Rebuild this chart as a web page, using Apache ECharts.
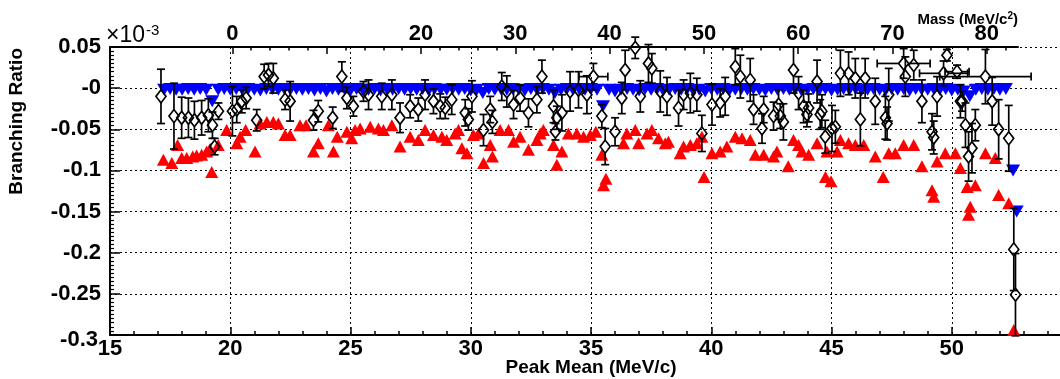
<!DOCTYPE html>
<html>
<head>
<meta charset="utf-8">
<script src="https://cdn.jsdelivr.net/npm/echarts@6/dist/echarts.min.js"></script>
<style>
  html, body { margin: 0; padding: 0; background: #fff; }
  #chart { width: 1060px; height: 379px; }
</style>
</head>
<body>
<div id="chart"></div>
<script>
// Branching ratio (x10^-3) versus peak mean (MeV/c)

// Bottom axis ticks
const meanTicks = [15, 20, 25, 30, 35, 40, 45, 50, 55];
const ratioTicks = [-0.3, -0.25, -0.2, -0.15, -0.1, -0.05, 0, 0.05];

// Top axis: mass scale (MeV/c^2) tied to the peak mean scale
const massLabels = [0, 20, 30, 40, 50, 60, 70, 80];
const massMajorTicks = [0, 10, 20, 30, 40, 50, 60, 70, 80];
const massMinorTicks = [0, 2, 4, 6, 8, 10, 12, 14, 16, 18, 20, 22, 24, 26, 28, 30, 32, 34, 36, 38, 40,
  42, 44, 46, 48, 50, 52, 54, 56, 58, 60, 62, 64, 66, 68, 70, 72, 74, 76, 78, 80, 82];
const massAtZeroMean = 20.09;   // peak mean (MeV/c) where mass = 0
const meanPerMass = 0.3923;     // MeV/c of peak mean per MeV/c^2 of mass
const massAxisEndMean = 52.77;  // peak mean where the mass axis stops

// Fitted values with errors: [peak mean, ratio, ratio error, peak mean error]
const fitted = [
  [17.12, -0.010, 0.033, 0], [17.66, -0.034, 0.040, 0], [17.98, -0.036, 0.025, 0], [18.26, -0.036, 0.024, 0],
  [18.51, -0.039, 0.023, 0], [18.81, -0.036, 0.021, 0], [19.09, -0.033, 0.020, 0], [19.26, -0.045, 0.016, 0],
  [19.35, -0.071, 0.010, 0], [19.51, -0.028, 0.010, 0], [20.09, -0.028, 0.030, 0], [20.27, -0.026, 0.016, 0],
  [20.48, -0.016, 0.014, 0], [20.66, -0.012, 0.013, 0], [21.10, -0.039, 0.013, 0], [21.41, 0.014, 0.015, 0],
  [21.59, 0.016, 0.014, 0], [21.79, 0.012, 0.018, 0], [22.28, -0.014, 0.012, 0], [22.49, -0.016, 0.024, 0],
  [23.46, -0.039, 0.012, 0], [23.66, -0.028, 0.013, 0], [24.26, -0.036, 0.013, 0], [24.64, 0.014, 0.018, 0],
  [24.85, -0.012, 0.013, 0], [25.12, -0.022, 0.012, 0], [25.54, -0.004, 0.012, 0], [25.75, -0.008, 0.018, 0],
  [26.30, -0.010, 0.016, 0], [26.72, -0.008, 0.018, 0], [27.06, -0.036, 0.018, 0], [27.48, -0.022, 0.014, 0],
  [27.82, -0.026, 0.014, 0], [28.10, -0.008, 0.018, 0], [28.45, -0.016, 0.015, 0], [28.73, -0.022, 0.015, 0],
  [28.94, -0.024, 0.013, 0], [29.21, -0.014, 0.018, 0], [29.77, -0.030, 0.016, 0], [29.90, -0.038, 0.013, 0],
  [30.05, -0.010, 0.019, 0], [30.53, -0.051, 0.019, 0], [30.81, -0.026, 0.016, 0], [30.90, -0.041, 0.014, 0],
  [31.29, 0.002, 0.017, 0], [31.50, -0.004, 0.019, 0], [31.78, -0.020, 0.017, 0], [32.05, -0.012, 0.016, 0],
  [32.40, -0.030, 0.017, 0], [32.75, -0.014, 0.016, 0], [32.96, 0.014, 0.020, 0], [33.44, -0.022, 0.020, 0],
  [33.52, -0.053, 0.010, 0], [33.58, -0.036, 0.014, 0], [33.79, -0.030, 0.022, 0], [34.13, -0.004, 0.024, 0],
  [34.48, -0.002, 0.022, 0], [34.83, -0.008, 0.023, 0], [35.10, 0.014, 0.016, 0.6], [35.45, -0.034, 0.014, 0],
  [35.59, -0.071, 0.022, 0], [36.00, -0.053, 0.017, 0], [36.28, -0.012, 0.019, 0], [36.42, 0.022, 0.024, 0],
  [36.84, 0.049, 0.013, 0], [37.05, -0.010, 0.019, 0], [37.39, 0.030, 0.023, 0], [37.53, 0.024, 0.018, 0],
  [37.88, -0.004, 0.025, 0], [38.16, -0.010, 0.023, 0], [38.64, -0.024, 0.022, 0], [38.85, -0.008, 0.018, 0],
  [39.13, -0.006, 0.024, 0], [39.40, -0.008, 0.020, 0], [39.61, -0.055, 0.022, 0], [40.03, -0.020, 0.025, 0],
  [40.37, -0.018, 0.017, 0], [40.58, -0.010, 0.023, 0], [41.00, 0.026, 0.022, 0], [41.21, 0.014, 0.026, 0],
  [41.62, 0.010, 0.026, 0], [41.76, -0.026, 0.018, 0], [42.11, -0.049, 0.018, 0], [42.18, -0.026, 0.016, 0],
  [42.59, -0.034, 0.017, 0], [42.80, -0.020, 0.018, 0], [42.87, -0.034, 0.015, 0], [43.00, -0.041, 0.022, 0],
  [43.42, 0.022, 0.028, 0], [43.63, -0.006, 0.020, 0], [43.84, -0.022, 0.020, 0], [43.98, -0.032, 0.015, 0],
  [44.05, -0.024, 0.017, 0], [44.40, 0.008, 0.026, 0], [44.53, -0.032, 0.018, 0], [44.60, -0.028, 0.020, 0],
  [44.74, -0.059, 0.020, 0], [45.02, -0.049, 0.028, 0], [45.16, -0.047, 0.020, 0], [45.37, 0.018, 0.028, 0],
  [45.71, 0.018, 0.026, 0], [45.99, 0.012, 0.024, 0], [46.20, -0.038, 0.032, 0], [46.40, 0.012, 0.024, 0],
  [46.82, -0.016, 0.028, 0], [47.24, -0.036, 0.026, 0], [47.31, -0.043, 0.020, 0], [47.38, -0.008, 0.032, 0],
  [48.00, 0.030, 0.018, 1.1], [48.07, 0.014, 0.024, 0], [48.42, 0.028, 0.018, 0], [48.76, -0.016, 0.026, 0],
  [49.18, -0.053, 0.022, 0], [49.25, -0.060, 0.020, 0], [49.39, -0.010, 0.024, 0], [49.66, 0.018, 0.015, 1.0],
  [49.80, 0.040, 0.007, 0], [50.22, 0.020, 0.008, 0.5], [50.36, -0.016, 0.020, 0], [50.43, -0.016, 0.012, 0],
  [50.57, -0.045, 0.027, 0], [50.70, -0.083, 0.030, 0], [50.84, -0.073, 0.030, 0], [50.98, -0.045, 0.019, 0],
  [51.40, 0.014, 0.033, 1.9], [51.68, -0.016, 0.029, 0], [51.95, -0.050, 0.036, 0], [52.37, -0.061, 0.040, 0],
  [52.58, -0.196, 0.050, 0], [52.65, -0.251, 0.050, 0]
];

// Upper curve (blue, pointing down): [peak mean, ratio]
const upperCurve = [
  [17.25, -0.002], [17.50, -0.001], [17.75, -0.002], [18.00, -0.002], [18.25, -0.001], [18.50, -0.002],
  [18.75, -0.001], [19.00, -0.002], [19.25, -0.016], [19.50, -0.002], [19.75, -0.001], [20.00, -0.002],
  [20.25, -0.001], [20.50, -0.002], [20.75, -0.001], [21.00, -0.002], [21.25, -0.003], [21.50, -0.001],
  [21.75, -0.001], [22.00, -0.002], [22.25, -0.001], [22.50, -0.002], [22.75, -0.001], [23.00, -0.002],
  [23.25, -0.001], [23.50, -0.003], [23.75, -0.001], [24.00, -0.004], [24.25, -0.001], [24.50, -0.002],
  [24.75, -0.001], [25.00, -0.003], [25.25, -0.001], [25.50, -0.002], [25.75, -0.002], [26.00, -0.001],
  [26.25, -0.003], [26.50, -0.001], [26.75, -0.002], [27.00, -0.001], [27.25, -0.002], [27.50, -0.001],
  [27.75, -0.002], [28.00, -0.001], [28.25, -0.003], [28.50, -0.001], [28.75, -0.002], [29.00, -0.002],
  [29.25, -0.001], [29.50, -0.002], [29.75, -0.001], [30.00, -0.003], [30.25, -0.002], [30.50, -0.006],
  [30.75, -0.001], [31.00, -0.002], [31.25, -0.001], [31.50, -0.002], [31.75, -0.001], [32.00, -0.002],
  [32.25, -0.003], [32.50, -0.001], [32.75, -0.002], [33.00, -0.001], [33.25, -0.002], [33.50, -0.006],
  [33.75, -0.002], [34.00, -0.001], [34.25, -0.002], [34.50, -0.001], [34.75, -0.002], [35.00, -0.001],
  [35.25, -0.002], [35.50, -0.022], [35.75, -0.002], [36.00, -0.004], [36.25, -0.002], [36.50, -0.001],
  [36.75, -0.002], [37.00, -0.003], [37.25, -0.001], [37.50, -0.002], [37.75, -0.001], [38.00, -0.003],
  [38.25, -0.002], [38.50, -0.001], [38.75, -0.002], [39.00, -0.001], [39.25, -0.003], [39.50, -0.002],
  [39.75, -0.004], [40.00, -0.001], [40.25, -0.002], [40.50, -0.001], [40.75, -0.003], [41.00, -0.002],
  [41.25, -0.001], [41.50, -0.002], [41.75, -0.001], [42.00, -0.002], [42.25, -0.003], [42.50, -0.001],
  [42.75, -0.002], [43.00, -0.001], [43.25, -0.002], [43.50, -0.001], [43.75, -0.003], [44.00, -0.002],
  [44.25, -0.001], [44.50, -0.002], [44.75, -0.001], [45.00, -0.003], [45.25, -0.002], [45.50, -0.001],
  [45.75, -0.002], [46.00, -0.001], [46.25, -0.003], [46.50, -0.002], [46.75, -0.001], [47.00, -0.002],
  [47.25, -0.003], [47.50, -0.001], [47.75, -0.002], [48.00, -0.001], [48.25, -0.003], [48.50, -0.001],
  [48.75, -0.002], [49.00, -0.002], [49.25, -0.001], [49.50, -0.002], [49.75, -0.001], [50.00, -0.003],
  [50.25, -0.002], [50.50, -0.004], [50.75, -0.010], [51.00, -0.002], [51.25, -0.001], [51.50, -0.002],
  [51.75, -0.001], [52.00, -0.002], [52.25, -0.001], [52.55, -0.100], [52.70, -0.150]
];

// Lower curve (red, pointing up): [peak mean, ratio]
const lowerCurve = [
  [17.22, -0.087], [17.57, -0.091], [17.81, -0.069], [17.98, -0.085], [18.19, -0.085], [18.44, -0.083],
  [18.60, -0.082], [18.81, -0.081], [19.02, -0.077], [19.16, -0.074], [19.23, -0.102], [19.50, -0.069],
  [19.85, -0.051], [20.27, -0.067], [20.41, -0.059], [20.64, -0.051], [21.03, -0.077], [21.24, -0.043],
  [21.52, -0.041], [21.79, -0.041], [22.00, -0.043], [22.28, -0.057], [22.49, -0.057], [22.90, -0.045],
  [23.15, -0.045], [23.46, -0.077], [23.66, -0.067], [24.08, -0.045], [24.29, -0.077], [24.45, -0.059],
  [24.85, -0.053], [25.05, -0.061], [25.19, -0.051], [25.40, -0.049], [25.82, -0.047], [26.16, -0.049],
  [26.37, -0.051], [26.72, -0.045], [27.06, -0.071], [27.48, -0.059], [27.82, -0.063], [28.10, -0.051],
  [28.45, -0.057], [28.80, -0.059], [29.00, -0.063], [29.35, -0.055], [29.49, -0.051], [29.63, -0.073],
  [29.84, -0.079], [30.11, -0.057], [30.32, -0.055], [30.53, -0.091], [30.81, -0.069], [30.90, -0.083],
  [31.22, -0.051], [31.57, -0.051], [31.78, -0.065], [32.05, -0.059], [32.40, -0.075], [32.75, -0.063],
  [32.89, -0.055], [33.02, -0.051], [33.44, -0.069], [33.58, -0.093], [33.79, -0.077], [34.06, -0.055],
  [34.41, -0.055], [34.69, -0.059], [34.97, -0.057], [35.20, -0.053], [35.45, -0.081], [35.52, -0.118],
  [35.62, -0.110], [36.35, -0.067], [36.49, -0.055], [36.84, -0.051], [36.98, -0.067], [37.33, -0.055],
  [37.53, -0.051], [37.81, -0.061], [38.09, -0.067], [38.22, -0.065], [38.71, -0.079], [38.85, -0.071],
  [39.13, -0.069], [39.40, -0.067], [39.61, -0.059], [39.70, -0.108], [40.03, -0.079], [40.37, -0.077],
  [40.65, -0.071], [41.00, -0.059], [41.28, -0.061], [41.62, -0.063], [41.83, -0.081], [42.18, -0.081],
  [42.59, -0.083], [42.73, -0.077], [43.20, -0.095], [43.42, -0.063], [43.63, -0.069], [43.77, -0.077],
  [44.05, -0.081], [44.40, -0.067], [44.75, -0.108], [44.81, -0.077], [44.98, -0.113], [45.23, -0.077],
  [45.37, -0.063], [45.71, -0.067], [45.99, -0.069], [46.34, -0.069], [46.82, -0.083], [47.15, -0.108],
  [47.38, -0.079], [47.65, -0.079], [48.00, -0.069], [48.42, -0.069], [48.76, -0.095], [49.18, -0.124],
  [49.25, -0.132], [49.39, -0.089], [49.73, -0.079], [50.15, -0.079], [50.36, -0.097], [50.64, -0.120],
  [50.70, -0.154], [50.77, -0.144], [50.98, -0.118], [51.40, -0.079], [51.81, -0.085], [51.95, -0.130],
  [52.37, -0.140], [52.58, -0.294]
];

const FONT = "'Liberation Sans', Arial, Helvetica, sans-serif";
const chart = echarts.init(document.getElementById('chart'), null, { renderer: 'canvas' });

function ratioLabel(v) {
  if (Math.abs(v) < 1e-9) return '-0';
  const s = String(parseFloat(v.toFixed(2)));
  return Math.abs(v - ratioTicks[0]) < 1e-9 ? '{low|' + s + '}' : s;
}

const massMin = (meanTicks[0] - massAtZeroMean) / meanPerMass;
const massMax = (massAxisEndMean - massAtZeroMean) / meanPerMass;

// Error bars: vertical (with caps) and, where present, horizontal
function renderErrorBar(params, api) {
  const m = api.value(0), r = api.value(1), e = api.value(2), me = api.value(3);
  const c = api.coord([m, r]);
  const top = api.coord([m, r + e])[1];
  const bot = api.coord([m, r - e])[1];
  const gap = 6.5, cap = 4;
  const st = { stroke: '#000', lineWidth: 1.7 };
  const kids = [];
  if (top < c[1] - gap) kids.push({ type: 'line', shape: { x1: c[0], y1: top, x2: c[0], y2: c[1] - gap }, style: st });
  if (bot > c[1] + gap) kids.push({ type: 'line', shape: { x1: c[0], y1: c[1] + gap, x2: c[0], y2: bot }, style: st });
  kids.push({ type: 'line', shape: { x1: c[0] - cap, y1: top, x2: c[0] + cap, y2: top }, style: st });
  kids.push({ type: 'line', shape: { x1: c[0] - cap, y1: bot, x2: c[0] + cap, y2: bot }, style: st });
  if (me > 0) {
    const l = api.coord([m - me, r])[0], rr = api.coord([m + me, r])[0];
    kids.push({ type: 'line', shape: { x1: l, y1: c[1], x2: c[0] - 5, y2: c[1] }, style: st });
    kids.push({ type: 'line', shape: { x1: c[0] + 5, y1: c[1], x2: rr, y2: c[1] }, style: st });
    kids.push({ type: 'line', shape: { x1: l, y1: c[1] - cap, x2: l, y2: c[1] + cap }, style: st });
    kids.push({ type: 'line', shape: { x1: rr, y1: c[1] - cap, x2: rr, y2: c[1] + cap }, style: st });
  }
  return { type: 'group', children: kids };
}

const dotted = { color: '#000', width: 1, type: [2, 3] };
const tickFont = { fontFamily: FONT, fontWeight: 'bold', fontSize: 22, color: '#000' };

const option = {
  animation: false,
  backgroundColor: '#fff',
  grid: [
    { left: 110, right: -12, top: 47, height: 288, containLabel: false, outerBoundsMode: 'none' },
    { left: 110, right: 1060 - 1018, top: 47, height: 288, containLabel: false, outerBoundsMode: 'none' }
  ],
  xAxis: [
    {
      gridIndex: 0, type: 'value', position: 'bottom',
      min: meanTicks[0], max: meanTicks[meanTicks.length - 1], interval: 5,
      axisLine: { onZero: false, lineStyle: { color: '#000', width: 2 } },
      axisTick: { inside: true, length: 8, lineStyle: { color: '#000', width: 1.5 } },
      minorTick: { show: true, splitNumber: 5, length: 4, lineStyle: { color: '#000', width: 1.5 } },
      axisLabel: Object.assign({ margin: 3 }, tickFont),
      splitLine: { show: true, lineStyle: dotted },
      name: 'Peak Mean (MeV/c)', nameLocation: 'middle', nameGap: 23, nameMoveOverlap: false,
      nameTextStyle: { fontFamily: FONT, fontWeight: 'bold', fontSize: 19, color: '#000' }
    },
    {
      gridIndex: 1, type: 'value', position: 'top', min: massMin, max: massMax,
      axisLine: { onZero: false, lineStyle: { color: '#000', width: 2 } },
      axisTick: { inside: true, length: 7, customValues: massMajorTicks, lineStyle: { color: '#000', width: 1.5 } },
      axisLabel: Object.assign({ margin: 2, customValues: massLabels }, tickFont),
      splitLine: { show: false }
    },
    {
      gridIndex: 1, type: 'value', position: 'top', min: massMin, max: massMax,
      axisLine: { show: false, onZero: false },
      axisTick: { inside: true, length: 3.5, customValues: massMinorTicks, lineStyle: { color: '#000', width: 1.5 } },
      axisLabel: { show: false },
      splitLine: { show: false }
    }
  ],
  yAxis: [
    {
      gridIndex: 0, type: 'value', position: 'left',
      min: ratioTicks[0], max: ratioTicks[ratioTicks.length - 1], interval: 0.05,
      axisLine: { onZero: false, lineStyle: { color: '#000', width: 2 } },
      axisTick: { inside: true, length: 10, lineStyle: { color: '#000', width: 1.5 } },
      minorTick: { show: true, splitNumber: 10, length: 4, lineStyle: { color: '#000', width: 1.2 } },
      axisLabel: Object.assign({
        margin: 9, formatter: ratioLabel,
        rich: { low: { fontFamily: FONT, fontWeight: 'bold', fontSize: 22, color: '#000', padding: [10, 3, 0, 0] } }
      }, tickFont),
      splitLine: { show: true, lineStyle: dotted }
    },
    { gridIndex: 1, type: 'value', min: 0, max: 1, show: false }
  ],
  graphic: [
    {
      type: 'text', x: 17, y: 48, rotation: Math.PI / 2,
      style: { text: 'Branching Ratio', font: 'bold 19px ' + FONT, fill: '#000', align: 'right', verticalAlign: 'middle' }
    },
    { type: 'text', x: 106, y: 47, style: { text: '\u00d710', font: '23px ' + FONT, fill: '#000', verticalAlign: 'bottom' } },
    { type: 'text', x: 146, y: 38, style: { text: '-3', font: '15px ' + FONT, fill: '#000', verticalAlign: 'bottom' } },
    {
      type: 'text', x: 1018, y: 29,
      style: {
        text: 'Mass (MeV/c{s|2})', font: 'bold 15px ' + FONT, fill: '#000', align: 'right', verticalAlign: 'bottom',
        rich: { s: { font: 'bold 10px ' + FONT, fill: '#000', verticalAlign: 'top', padding: [0, 0, 8, 0] } }
      }
    }
  ],
  series: [
    {
      name: 'upper', type: 'scatter', xAxisIndex: 0, yAxisIndex: 0, data: upperCurve,
      symbol: 'triangle', symbolRotate: 180, symbolSize: [14, 12],
      itemStyle: { color: '#0000ff', opacity: 1 }, z: 2, silent: true
    },
    {
      name: 'lower', type: 'scatter', xAxisIndex: 0, yAxisIndex: 0, data: lowerCurve,
      symbol: 'triangle', symbolSize: [13, 12],
      itemStyle: { color: '#ff0000', opacity: 1 }, z: 2, silent: true
    },
    {
      name: 'errors', type: 'custom', xAxisIndex: 0, yAxisIndex: 0, data: fitted,
      renderItem: renderErrorBar, encode: { x: 0, y: 1 }, z: 3, silent: true, clip: false
    },
    {
      name: 'fitted', type: 'scatter', xAxisIndex: 0, yAxisIndex: 0, data: fitted,
      encode: { x: 0, y: 1 }, symbol: 'diamond', symbolSize: [10, 13],
      itemStyle: { color: 'rgba(0,0,0,0)', borderColor: '#000', borderWidth: 1.7, opacity: 1 }, z: 4, silent: true
    }
  ]
};

chart.setOption(option);
</script>
</body>
</html>
